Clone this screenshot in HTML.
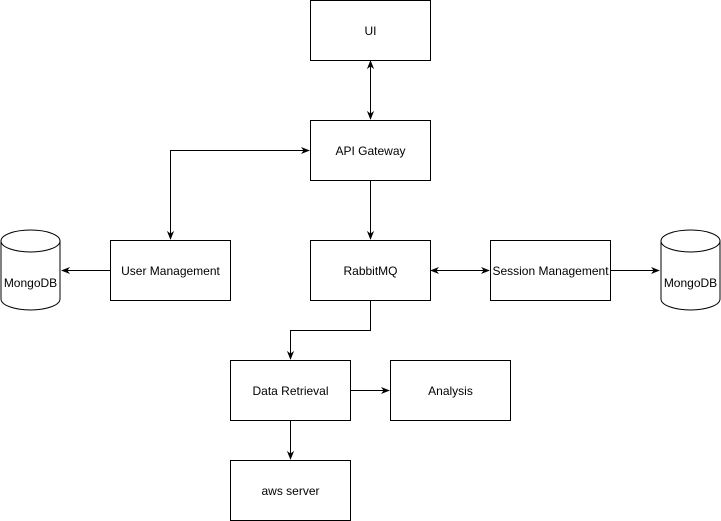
<!DOCTYPE html>
<html><head><meta charset="utf-8"><style>
html,body{margin:0;padding:0;background:#fff;}
svg{display:block;}
text{font-family:"Liberation Sans",Helvetica,Arial,sans-serif;font-size:12px;fill:#000;}
</style></head><body>
<svg width="721" height="521" viewBox="0 0 721 521" xmlns="http://www.w3.org/2000/svg">
<defs>
<marker id="a" viewBox="0 0 10 10" refX="9" refY="5" markerWidth="9" markerHeight="9" orient="auto-start-reverse">
<path d="M0,1 L10,5 L0,9 L3,5 Z" fill="#000"/>
</marker>
</defs>
<g fill="#fff" stroke="#000" stroke-width="1">
<rect x="310.5" y="0.5" width="120" height="60"/>
<rect x="310.5" y="120.5" width="120" height="60"/>
<rect x="110.5" y="240.5" width="120" height="60"/>
<rect x="310.5" y="240.5" width="120" height="60"/>
<rect x="490.5" y="240.5" width="120" height="60"/>
<rect x="230.5" y="360.5" width="120" height="60"/>
<rect x="390.5" y="360.5" width="120" height="60"/>
<rect x="230.5" y="460.5" width="120" height="60"/>
<path d="M1,241 A29.5,11 0 0 1 60,241 L60,299 A29.5,11 0 0 1 1,299 Z"/>
<path d="M1,241 A29.5,11 0 0 0 60,241"/>
<path d="M661,241 A29.5,11 0 0 1 720,241 L720,299 A29.5,11 0 0 1 661,299 Z"/>
<path d="M661,241 A29.5,11 0 0 0 720,241"/>
</g>
<g fill="none" stroke="#000" stroke-width="1">
<path d="M370.5,61 L370.5,119" marker-start="url(#a)" marker-end="url(#a)"/>
<path d="M309,150.5 L170.5,150.5 L170.5,239" marker-start="url(#a)" marker-end="url(#a)"/>
<path d="M370.5,181 L370.5,239" marker-end="url(#a)"/>
<path d="M110,270.5 L62,270.5" marker-end="url(#a)"/>
<path d="M431,270.5 L489,270.5" marker-start="url(#a)" marker-end="url(#a)"/>
<path d="M611,270.5 L659,270.5" marker-end="url(#a)"/>
<path d="M370.5,301 L370.5,330.5 L290.5,330.5 L290.5,359" marker-end="url(#a)"/>
<path d="M351,390.5 L389,390.5" marker-end="url(#a)"/>
<path d="M290.5,421 L290.5,459" marker-end="url(#a)"/>
</g>
<g text-anchor="middle">
<text x="370.5" y="35">UI</text>
<text x="370.5" y="155">API Gateway</text>
<text x="170.5" y="275">User Management</text>
<text x="370.5" y="275">RabbitMQ</text>
<text x="550.5" y="275">Session Management</text>
<text x="290.5" y="395">Data Retrieval</text>
<text x="450.5" y="395">Analysis</text>
<text x="290.5" y="495">aws server</text>
<text x="30.5" y="287">MongoDB</text>
<text x="690.5" y="287">MongoDB</text>
</g>
</svg>
</body></html>
